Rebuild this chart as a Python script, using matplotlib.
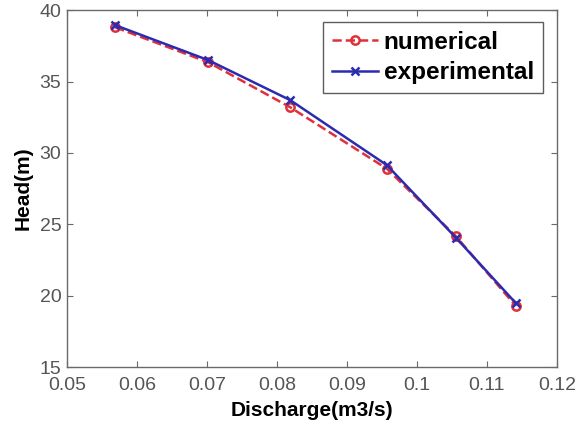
import numpy as np
import matplotlib
matplotlib.use("Agg")
import matplotlib.pyplot as plt

plt.rcParams['font.family'] = ['Liberation Sans', 'DejaVu Sans']

# discharge (m3/s) and head (m)
discharge = [0.0569, 0.0702, 0.0819, 0.0957, 0.1056, 0.1141]
head_num = [38.8, 36.35, 33.2, 28.9, 24.15, 19.3]
head_exp = [38.95, 36.5, 33.7, 29.15, 24.05, 19.5]

fig = plt.figure(figsize=(5.8, 4.33), dpi=100)
ax = fig.add_axes([0.1155, 0.1524, 0.8445, 0.824])

ax.plot(discharge, head_num, color="#e0303a", linewidth=1.8, linestyle='--',
        marker='o', markersize=6, markerfacecolor='none', markeredgewidth=1.8,
        label='numerical')
ax.plot(discharge, head_exp, color="#2b2bb0", linewidth=1.8, linestyle='-',
        marker='x', markersize=6, markeredgewidth=1.8, label='experimental')

ax.set_xlim(0.05, 0.12)
ax.set_ylim(15, 40)
ax.set_xticks([0.05, 0.06, 0.07, 0.08, 0.09, 0.1, 0.11, 0.12])
ax.set_xticklabels(['0.05', '0.06', '0.07', '0.08', '0.09', '0.1', '0.11', '0.12'])
ax.set_yticks([15, 20, 25, 30, 35, 40])

for s in ax.spines.values():
    s.set_color('#6a6a6a')
    s.set_linewidth(1.0)
ax.tick_params(axis='both', direction='in', top=True, right=True, length=4,
               color='#6a6a6a', labelcolor='#555555', labelsize=14)
ax.tick_params(axis='x', pad=7)
ax.tick_params(axis='y', pad=4)

ax.set_xlabel('Discharge(m3/s)', fontsize=15, fontweight='bold', labelpad=5)
ax.set_ylabel('Head(m)', fontsize=15, fontweight='bold', labelpad=5)

leg = ax.legend(loc='upper right', prop={'weight': 'bold', 'size': 17.5},
                frameon=True, fancybox=False, edgecolor='#333333',
                handlelength=1.9, handletextpad=0.25, borderpad=0.35,
                labelspacing=0.3, borderaxespad=0,
                bbox_to_anchor=(0.971, 0.966))
leg.get_frame().set_linewidth(1.0)

plt.savefig("out.png", dpi=100)
